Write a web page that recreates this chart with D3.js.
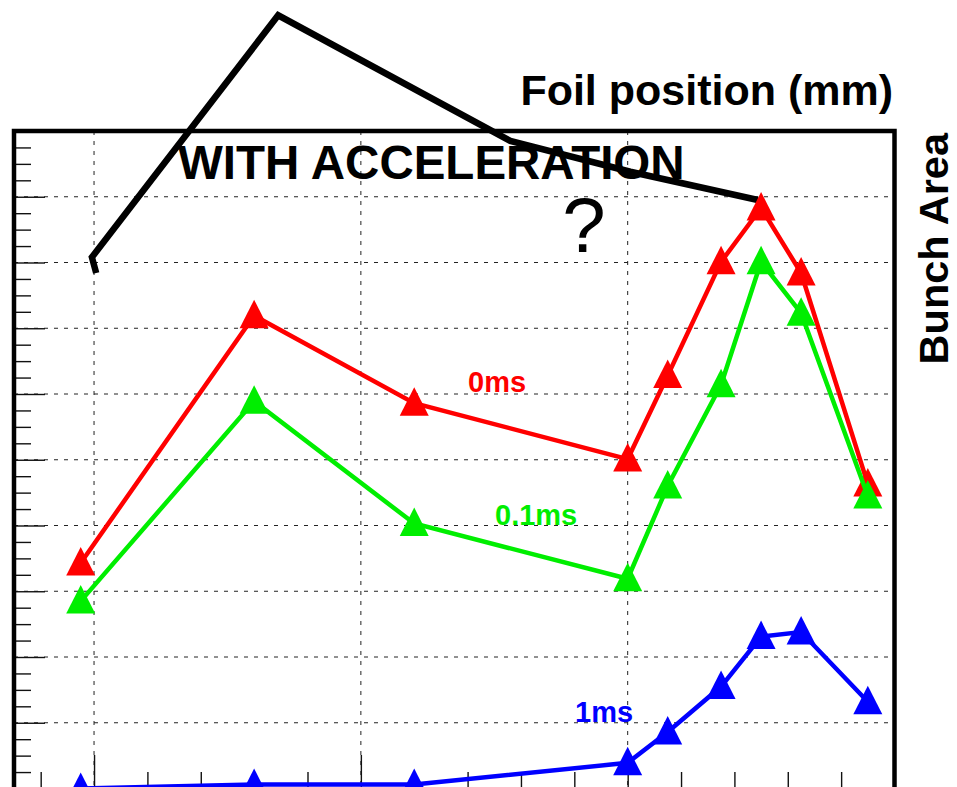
<!DOCTYPE html>
<html>
<head>
<meta charset="utf-8">
<script src="https://cdn.jsdelivr.net/npm/d3@7"></script>
<style>
  html, body { margin: 0; padding: 0; background: #fff; overflow: hidden; }
  svg { display: block; }
  text { font-family: "Liberation Sans", Arial, Helvetica, sans-serif; }
</style>
</head>
<body>
<svg id="chart" width="957" height="787"></svg>
<script>
// ---- data ----
const foilPositions = [-0.25, 3, 6, 10, 10.75, 11.75, 12.5, 13.25, 14.5];
const area0ms   = [3.43, 7.19, 5.86, 5.01, 6.28, 8.01, 8.83, 7.84, 4.63];
const area01ms  = [2.85, 5.89, 4.03, 3.19, 4.60, 6.14, 8.01, 7.23, 4.45];
const area1ms   = [0.00, 0.06, 0.06, 0.39, 0.86, 1.55, 2.31, 2.38, 1.32];
const seriesNames = ["0ms", "0.1ms", "1ms"];
// hand-drawn annotation polyline (data coordinates)
const annotX = [0.04, -0.04, 3.45, 7.80, 10.05, 12.44];
const annotY = [7.84, 8.08, 11.76, 9.85, 9.38, 8.95];

const xMajorTicks = [0, 5, 10, 15];
const xMinorTicks = d3.range(-1, 15, 1);
const yMajorTicks = d3.range(0, 11, 1);
const yMinorTicks = d3.range(0, 10.01, 0.25);

// ---- layout ----
const pL = 14, pR = 894.5, pT = 131, pB = 788.5;
const svg = d3.select("#chart");
const x = d3.scaleLinear().domain([-1.5, 15]).range([pL, pR]);
const y = d3.scaleLinear().domain([0, 10]).range([pB, pT]);

// grid
const grid = svg.append("g").attr("stroke", "#222").attr("stroke-width", 1)
  .attr("stroke-dasharray", "4,6").attr("fill", "none");
grid.selectAll("line.v").data(xMajorTicks.filter(d => d > -1.5 && d < 15)).join("line")
  .attr("x1", d => x(d)).attr("x2", d => x(d)).attr("y1", pT).attr("y2", pB + 5);
grid.selectAll("line.h").data(yMajorTicks.filter(d => d > 0 && d < 10)).join("line")
  .attr("y1", d => y(d)).attr("y2", d => y(d)).attr("x1", pL).attr("x2", pR);

// axes ticks via d3 axes
const yAxisMinor = d3.axisRight(y).tickValues(yMinorTicks.filter(v => Math.abs(v - Math.round(v)) > 1e-6))
  .tickSize(17).tickFormat("");
const yAxisMajor = d3.axisRight(y).tickValues(yMajorTicks).tickSize(31).tickFormat("");
[yAxisMinor, yAxisMajor].forEach(ax => {
  const g = svg.append("g").attr("transform", `translate(${pL},0)`).call(ax);
  g.select(".domain").remove();
  g.selectAll("line").attr("stroke", "#111").attr("stroke-width", 1.4);
});
const xAxisMinor = d3.axisTop(x).tickValues(xMinorTicks.filter(v => v % 5 !== 0)).tickSize(19).tickFormat("");
const xAxisMajor = d3.axisTop(x).tickValues(xMajorTicks).tickSize(36).tickFormat("");
[xAxisMinor, xAxisMajor].forEach(ax => {
  const g = svg.append("g").attr("transform", `translate(0,${pB + 2.5})`).call(ax);
  g.select(".domain").remove();
  g.selectAll("line").attr("stroke", "#111").attr("stroke-width", 1.4);
});

// frame
svg.append("rect").attr("x", pL).attr("y", pT)
  .attr("width", pR - pL).attr("height", pB + 3 - pT)
  .attr("fill", "none").attr("stroke", "#000").attr("stroke-width", 4.5);

// title texts
svg.append("text").attr("x", 178).attr("y", 179)
  .attr("font-size", 47.5).attr("font-weight", "bold").attr("fill", "#000")
  .text("WITH ACCELERATION");
svg.append("text").attr("x", 893).attr("y", 105).attr("text-anchor", "end")
  .attr("font-size", 43).attr("font-weight", "bold").attr("fill", "#000")
  .text("Foil position (mm)");
svg.append("text").attr("transform", "translate(948,133) rotate(-90)").attr("text-anchor", "end")
  .attr("font-size", 41.5).attr("font-weight", "bold").attr("fill", "#000")
  .text("Bunch Area");
svg.append("text").attr("x", 584).attr("y", 252).attr("text-anchor", "middle")
  .attr("font-size", 78).attr("fill", "#000").text("?");

// annotation line
const annot = annotX.map((d, i) => [d, annotY[i]]);
svg.append("path").datum(annot)
  .attr("d", d3.line().x(d => x(d[0])).y(d => y(d[1])))
  .attr("fill", "none").attr("stroke", "#000").attr("stroke-width", 6.5)
  .attr("stroke-linejoin", "miter");

// series
const colors = ["#ff0000", "#00ee00", "#0000ff"];
const series = [area0ms, area01ms, area1ms];
const tri = "M0,-16L14.5,12.5L-14.5,12.5Z";
series.forEach((vals, si) => {
  const pts = foilPositions.map((d, i) => [d, vals[i]]);
  const g = svg.append("g");
  g.append("path").datum(pts)
    .attr("d", d3.line().x(d => x(d[0])).y(d => y(d[1])))
    .attr("fill", "none").attr("stroke", colors[si]).attr("stroke-width", 4.5);
  g.selectAll("path.m").data(pts).join("path").attr("class", "m")
    .attr("d", tri)
    .attr("transform", d => `translate(${x(d[0])},${y(d[1])})`)
    .attr("fill", colors[si]);
});

// series labels
const labelPos = [[468, 392], [495, 525], [575, 722]];
seriesNames.forEach((n, i) => {
  svg.append("text").attr("x", labelPos[i][0]).attr("y", labelPos[i][1])
    .attr("font-size", 29).attr("font-weight", "bold").attr("fill", colors[i]).text(n);
});
</script>
</body>
</html>
